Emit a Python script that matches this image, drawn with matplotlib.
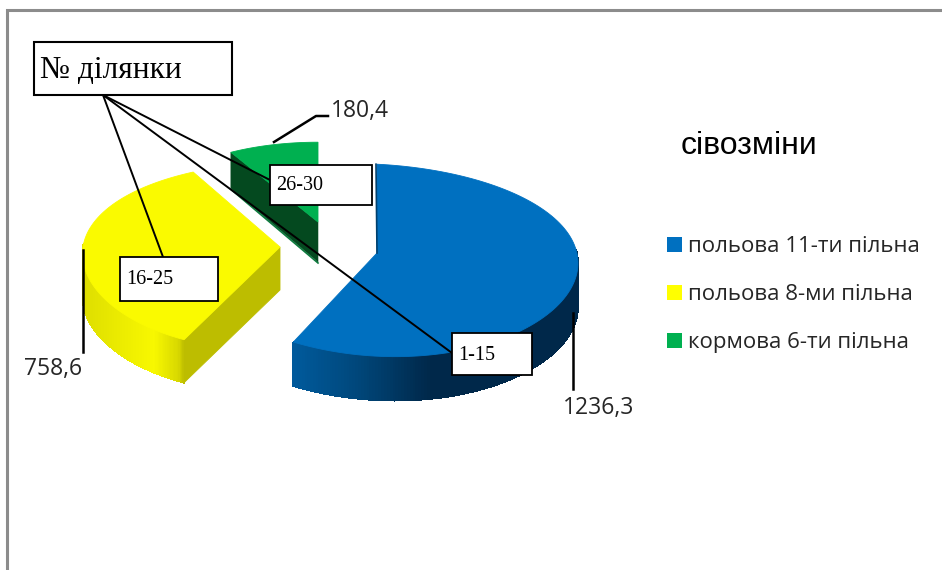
import numpy as np
from matplotlib import pyplot as plt
from matplotlib.colors import to_rgb
from matplotlib.patches import Patch, Rectangle, Polygon

# Data
crop_names = ["польова 11-ти пільна", "польова 8-ми пільна", "кормова 6-ти пільна"]
areas = [1236.3, 758.6, 180.4]
area_labels = ["1236,3", "758,6", "180,4"]
plot_ranges = ["1-15", "16-25", "26-30"]

top_colors = ["#0070C0", "#FAFA00", "#00B050"]
legend_colors = ["#0070C0", "#FFFF00", "#00B050"]

# Drawing is done in pixel coordinates of the 942x570 picture
# cx, cy = slice apex, rx, ry = ellipse radii, q = perspective, k/m = shears
geom = [
    dict(cx=377, cy=253, rx=201, ry=96, q=0.075, k=0.0, m=0.05, depth=44, arc=(82, None),
         stops=[(0.0, "#00284A"), (0.52, "#00284A"), (0.78, "#00487C"), (1.0, "#005A9C")]),
    dict(cx=280, cy=247, rx=197, ry=94, q=0.093, k=-0.15, m=0.0, depth=43, arc=(None, 272),
         stops=[(0.0, "#BDBD00"), (0.06, "#D8D800"), (0.3, "#F8F800"), (1.0, "#DEDE00")]),
    dict(cx=318, cy=222, rx=175, ry=84, q=0.05, k=0.0, m=0.0, depth=40, arc=None, stops=None),
]


def project(g, t):
    t = np.radians(t)
    dx = g["rx"] * np.sin(t)
    dy = -g["ry"] * np.cos(t) * (1 - g["q"] * np.cos(t))
    return g["cx"] + dx + g["k"] * dy, g["cy"] + dy + g["m"] * dx


def mix(stops, f):
    pos = [s[0] for s in stops]
    cols = np.array([to_rgb(s[1]) for s in stops])
    return [np.interp(f, pos, cols[:, i]) for i in range(3)]


fig = plt.figure(figsize=(9.42, 5.70), dpi=100)
ax = fig.add_axes([0, 0, 1, 1])
ax.set_xlim(0, 942)
ax.set_ylim(570, 0)
ax.axis("off")

# Frame of the chart area
ax.plot([7, 7, 942], [570, 10, 10], color="#8C8C8C", lw=2.2, solid_joinstyle="miter")

# Slice angles, clockwise from 12 o'clock
angles = np.cumsum([0] + list(areas)) / sum(areas) * 360

# Far slices first so the nearer ones overlap them
for i in [2, 1, 0]:
    g = geom[i]
    t0, t1 = angles[i], angles[i + 1]
    ts = np.linspace(t0, t1, 120)
    x, y = project(g, ts)

    # Curved outer wall
    if g["arc"] is not None:
        a0 = t0 if g["arc"][0] is None else g["arc"][0]
        a1 = t1 if g["arc"][1] is None else g["arc"][1]
        wall = np.linspace(a0, a1, 150)
        wx, wy = project(g, wall)
        for j in range(len(wall) - 1):
            f = (wx[j] - wx.min()) / (wx.max() - wx.min())
            col = mix(g["stops"], 1 - f)
            pts = [(wx[j], wy[j]), (wx[j + 1], wy[j + 1]),
                   (wx[j + 1], wy[j + 1] + g["depth"]), (wx[j], wy[j] + g["depth"])]
            ax.add_patch(Polygon(pts, facecolor=col, edgecolor=col, lw=0.5, antialiased=False))

    # Flat cut faces
    if i == 1:
        ex, ey = project(g, t0)
        pts = [(g["cx"], g["cy"]), (ex, ey), (ex, ey + g["depth"]), (g["cx"], g["cy"] + g["depth"])]
        ax.add_patch(Polygon(pts, facecolor="#BDBD00", edgecolor="#BDBD00", lw=0.6))
    if i == 2:
        ex, ey = project(g, t0)
        pts = [(g["cx"], g["cy"]), (ex, ey), (ex, ey + g["depth"] - 4), (g["cx"], g["cy"] + g["depth"])]
        ax.add_patch(Polygon(pts, facecolor="#04491F", edgecolor="#04491F", lw=0.4))
        ax.plot([ex, g["cx"]], [ey + g["depth"] - 3, g["cy"] + g["depth"] + 1], color="#0E7A3E", lw=1.2)

    # Top face
    top = [(g["cx"], g["cy"])] + list(zip(x, y))
    ax.add_patch(Polygon(top, facecolor=top_colors[i], edgecolor=top_colors[i], lw=0.6))

# Thin dark edge where the blue slice is cut at the top
bx, by = project(geom[0], angles[0])
ax.plot([bx - 1, geom[0]["cx"]], [by, geom[0]["cy"]], color="#00406E", lw=1.2)

# Value labels with their leader lines
lbl = dict(family=["Open Sans", "DejaVu Sans"], fontsize=16.5, color="#262626", va="center")
ax.plot([83, 83], [250, 352], color="black", lw=1.8)
ax.plot([573, 573], [313, 389], color="black", lw=1.8)
ax.plot([274, 316, 328], [142, 116, 116], color="black", lw=1.8)
ax.text(563, 408, area_labels[0], **lbl)
ax.text(24, 369, area_labels[1], **lbl)
ax.text(331, 111, area_labels[2], **lbl)

# Callout lines from the "plot number" box
lines_to = [(452, 353), (163, 257), (270, 180)]
for px, py in lines_to:
    ax.plot([103, px], [95, py], color="black", lw=1.4)

# Callout boxes
serif = ["Liberation Serif", "DejaVu Serif"]
ax.add_patch(Rectangle((34, 42), 198, 53, facecolor="white", edgecolor="black", lw=1.5, zorder=5))
ax.text(40, 70, "№ ділянки", family=serif, fontsize=22.7, va="center", zorder=6)

boxes = [(452, 333, 80, 42), (120, 257, 98, 44), (270, 165, 102, 40)]
for (bx0, by0, bw, bh), name in zip(boxes, plot_ranges):
    ax.add_patch(Rectangle((bx0, by0), bw, bh, facecolor="white", edgecolor="black", lw=1.3, zorder=5))
    ax.text(bx0 + 6, by0 + bh / 2 + 1, name, family=serif, fontsize=14.5, va="center", zorder=6)

# Legend
ax.text(681, 142, "сівозміни", family=["Liberation Sans", "DejaVu Sans"], fontsize=23,
        va="center_baseline", color="black")
handles = [Patch(facecolor=c, edgecolor="none") for c in legend_colors]
leg = ax.legend(handles, crop_names, loc="upper left", bbox_to_anchor=(667 / 942, 1 - 236 / 570),
                frameon=False, handlelength=0.68, handleheight=0.66, handletextpad=0.27,
                labelspacing=1.22, borderpad=0, borderaxespad=0,
                prop=dict(family="Open Sans", size=16))
for t in leg.get_texts():
    t.set_color("#262626")

fig.savefig("out.png", dpi=100)
